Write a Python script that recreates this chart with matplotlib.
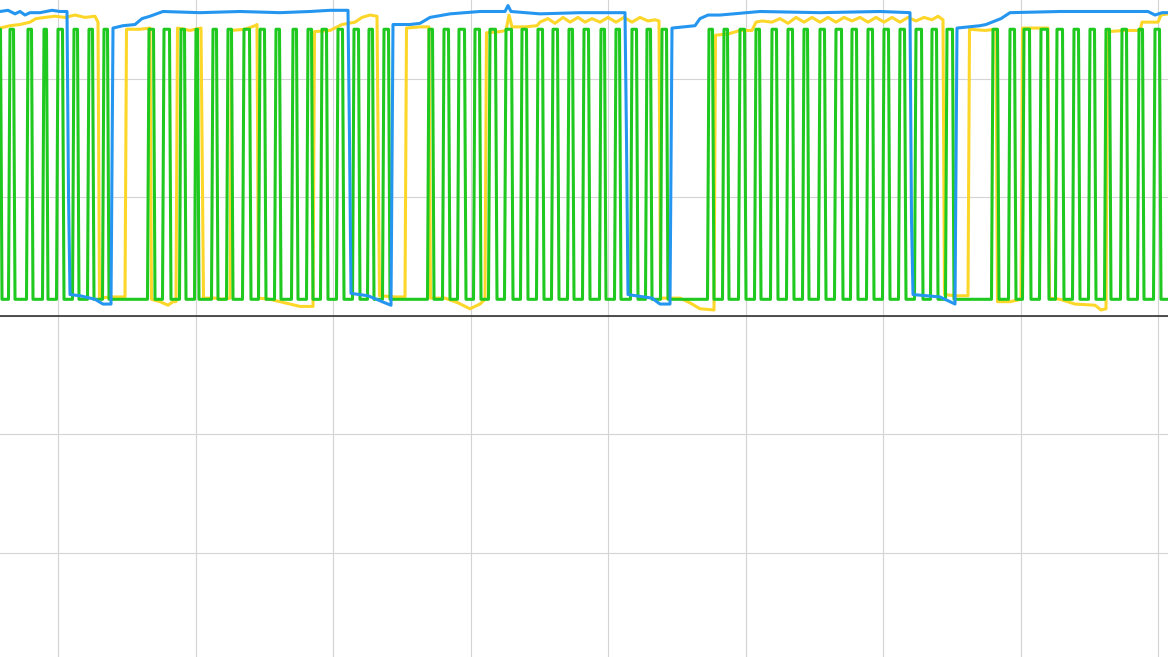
import numpy as np
import matplotlib
matplotlib.use('Agg')
import matplotlib.pyplot as plt
from matplotlib.ticker import MultipleLocator

# 绿色信号: 每个脉冲的上升/下降时刻
green_rise = [9, 27, 43, 57, 73, 88, 103, 148, 163, 180, 195,
              212, 227, 243, 259, 275, 292, 307, 321, 337, 353, 368, 383,
              428, 443, 458, 474, 489, 505, 521, 537, 552, 568, 583,
              600, 615, 631, 646, 661, 708, 723, 739, 755, 771,
              787, 803, 819, 835, 851, 867, 883, 899, 915, 931, 946,
              992, 1009, 1023, 1040, 1056, 1073, 1089, 1105, 1121, 1138, 1154]
green_fall = [14, 32, 47, 63, 78, 93, 108, 154, 170, 185, 198,
              217, 232, 250, 265, 280, 297, 312, 327, 343, 359, 373, 389,
              433, 449, 465, 480, 496, 512, 527, 543, 558, 573, 589,
              605, 620, 637, 651, 667, 713, 728, 745, 760, 777,
              793, 808, 825, 842, 857, 873, 889, 905, 922, 937, 953,
              998, 1015, 1030, 1048, 1063, 1079, 1095, 1110, 1127, 1143, 1160]
green_hi = 2.42
green_lo = 0.14

# 蓝色信号 (时刻, 电平)
blue = [(0, 2.57), (8, 2.58), (15, 2.55), (20, 2.57), (25, 2.54), (30, 2.56),
        (40, 2.56), (52, 2.58), (60, 2.57), (67, 2.57), (68.5, 1.04), (70, 0.18),
        (80, 0.17), (95, 0.14), (103, 0.10), (111, 0.10), (113, 2.43), (123, 2.45),
        (135, 2.46), (142, 2.51), (150, 2.53), (163, 2.57), (200, 2.56), (240, 2.57),
        (280, 2.56), (310, 2.57), (330, 2.58), (348, 2.58), (349.5, 1.49), (351, 0.19),
        (368, 0.17), (385, 0.11), (391, 0.09), (393, 2.46), (410, 2.46), (420, 2.47),
        (430, 2.52), (450, 2.55), (480, 2.57), (505, 2.57), (508, 2.62), (511, 2.57),
        (540, 2.55), (580, 2.56), (625, 2.56), (626.5, 1.49), (628, 0.18), (652, 0.15),
        (660, 0.10), (670, 0.10), (672, 2.43), (695, 2.45), (700, 2.51), (708, 2.54),
        (720, 2.54), (760, 2.57), (820, 2.56), (880, 2.57), (910, 2.56), (911.5, 0.81),
        (913, 0.18), (940, 0.16), (955, 0.10), (957, 2.43), (980, 2.45), (986, 2.46),
        (1001, 2.51), (1010, 2.56), (1060, 2.57), (1110, 2.57), (1148, 2.57),
        (1155, 2.54), (1162, 2.56), (1168, 2.56)]

# 黄色信号 (时刻, 电平)
yellow = [(0, 2.43), (10, 2.45), (20, 2.46), (30, 2.48), (36, 2.51), (45, 2.52),
          (55, 2.53), (65, 2.52), (75, 2.54), (85, 2.52), (95, 2.53), (98, 2.48),
          (99.5, 0.15), (110, 0.16), (125, 0.16), (126.5, 2.42), (140, 2.42), (150, 2.43),
          (151.5, 0.14), (160, 0.12), (168, 0.09), (173, 0.12), (176, 0.12), (177.5, 2.43),
          (190, 2.41), (201, 2.43), (203.5, 0.15), (215, 0.15), (222, 0.14), (230, 0.15),
          (231.5, 2.41), (245, 2.42), (255, 2.45), (257, 2.46), (258.5, 0.15), (270, 0.14),
          (285, 0.11), (300, 0.08), (313, 0.08), (314.5, 2.40), (330, 2.41), (342, 2.46),
          (355, 2.48), (362, 2.52), (370, 2.54), (377, 2.53), (379.5, 0.17), (395, 0.16),
          (405, 0.16), (406.5, 2.43), (420, 2.44), (429, 2.44), (430.5, 0.15), (445, 0.15),
          (458, 0.11), (470, 0.06), (480, 0.10), (485, 0.14), (486.5, 2.39), (500, 2.40),
          (506, 2.41), (509, 2.54), (512, 2.44), (525, 2.44), (537, 2.45), (540, 2.48),
          (548, 2.51), (555, 2.47), (563, 2.52), (570, 2.48), (578, 2.52), (585, 2.48),
          (592, 2.51), (600, 2.48), (608, 2.52), (616, 2.48), (624, 2.52), (632, 2.48),
          (640, 2.52), (648, 2.49), (655, 2.50), (659, 2.49), (660.5, 0.15), (680, 0.15),
          (690, 0.11), (700, 0.06), (714, 0.05), (715.5, 2.37), (728, 2.38), (740, 2.41),
          (752, 2.41), (756, 2.48), (762, 2.49), (772, 2.48), (780, 2.51), (788, 2.47),
          (796, 2.52), (804, 2.48), (812, 2.52), (820, 2.48), (828, 2.52), (836, 2.48),
          (844, 2.52), (852, 2.49), (860, 2.52), (868, 2.48), (876, 2.52), (884, 2.48),
          (892, 2.52), (900, 2.48), (908, 2.52), (916, 2.49), (924, 2.52), (932, 2.50),
          (938, 2.53), (943, 2.50), (944.5, 0.18), (955, 0.17), (968, 0.17), (969.5, 2.42),
          (985, 2.41), (996, 2.42), (997.5, 0.12), (1010, 0.12), (1021, 0.14), (1022.5, 2.43),
          (1035, 2.43), (1048, 2.43), (1049.5, 0.15), (1060, 0.14), (1075, 0.10), (1095, 0.09),
          (1101, 0.05), (1106, 0.06), (1107.5, 2.40), (1125, 2.41), (1140, 2.41), (1142, 2.48),
          (1158, 2.48), (1161, 2.54), (1168, 2.55)]

t_max = 1168

# 绿色脉冲折线 (边沿略带斜度)
gx = [0, 0.5, 2]
gy = [green_hi, green_hi, green_lo]
for r, f in zip(green_rise, green_fall):
    gx += [r - 0.5, r + 1, f - 0.5, f + 1]
    gy += [green_lo, green_hi, green_hi, green_lo]
gx.append(t_max)
gy.append(green_lo)

bx, by = zip(*blue)
yx, yy = zip(*yellow)

fig = plt.figure(figsize=(11.68, 6.57), dpi=100)
ax = fig.add_axes([0, 0, 1, 1])

ax.plot(yx, yy, color='#fdd62a', lw=2.2, zorder=3)
ax.plot(gx, gy, color='#1fc91f', lw=2.2, zorder=4)
ax.plot(bx, by, color='#2496f0', lw=2.2, zorder=5)

ax.axhline(0, color='#222222', lw=1.1, zorder=2)

ax.set_xlim(0, t_max)
ax.set_ylim(-2.88, 2.667)
ax.xaxis.set_major_locator(MultipleLocator(137.5, offset=58))
ax.yaxis.set_major_locator(MultipleLocator(1))
ax.grid(True, color='#d4d4d4', lw=0.8, zorder=0)
ax.tick_params(length=0, labelbottom=False, labelleft=False)
for s in ax.spines.values():
    s.set_visible(False)

plt.savefig('out.png', dpi=100)
